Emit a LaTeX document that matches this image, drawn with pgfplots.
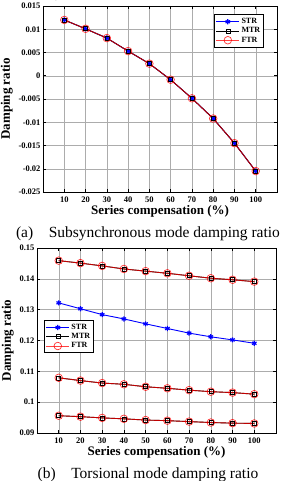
\documentclass[border=0pt]{standalone}
\usepackage{pgfplots}
\pgfplotsset{compat=1.18}
\usepackage{fontspec}
\setmainfont{Liberation Serif}

% Subsynchronous mode damping ratio versus series compensation
\pgfplotstableread{
x    str       mtr       ftr
10   0.0120    0.0120    0.0120
20   0.0101    0.0101    0.0101
30   0.0081    0.0081    0.0081
40   0.0053    0.0053    0.0053
50   0.0026    0.0026    0.0026
60  -0.00085  -0.00085  -0.00085
70  -0.00485  -0.00485  -0.00485
80  -0.0092   -0.0092   -0.0092
90  -0.0145   -0.0145   -0.0145
100 -0.0205   -0.0205   -0.0205
}\subsync

% Torsional mode damping ratios (STR has one torsional mode, MTR/FTR have three)
\pgfplotstableread{
x    str      ma       mb       mc
10   0.1322   0.1459   0.1079   0.0956
20   0.1303   0.1451   0.1070   0.0953
30   0.1284   0.1442   0.1062   0.0949
40   0.1270   0.1432   0.1058   0.0946
50   0.1254   0.1425   0.1050   0.0942
60   0.1239   0.1418   0.1045   0.0940
70   0.1224   0.1410   0.1039   0.0937
80   0.1212   0.1402   0.1034   0.0934
90   0.1202   0.1397   0.1031   0.0932
100  0.1191   0.1391   0.1026   0.0931
}\torsional

\pgfplotsset{
  dampstyle/.style={
    scale only axis,
    xmin=0, xmax=110,
    xtick={10,20,...,100},
    grid=major,
    major grid style={gray!65, line width=0.45pt},
    axis line style={line width=0.9pt},
    tick align=inside,
    major tick length=3pt,
    tick style={black, line width=0.5pt},
    ticklabel style={font=\fontsize{8.5}{9}\selectfont\bfseries},
    xticklabel style={yshift=-1pt},
    yticklabel style={xshift=1pt},
    /pgf/number format/assume math mode=true,
    xlabel={Series compensation (\%)},
    ylabel={Damping ratio},
    label style={font=\fontsize{13}{14}\selectfont\bfseries},
    xlabel style={yshift=4pt},
    ylabel style={yshift=-1pt},
    legend style={font=\fontsize{8}{9}\selectfont\bfseries,
      draw=black, line width=0.9pt, inner sep=1.5pt,
      row sep=-1.5pt, cells={anchor=west}},
    legend cell align=left,
    legend image code/.code={%
      \draw[mark repeat=2, mark phase=2, line width=0.6pt]
        plot coordinates {(0cm,0cm) (0.4cm,0cm) (0.8cm,0cm)};},
  },
  strstyle/.style={blue, line width=0.9pt, mark=asterisk, mark size=2.6pt,
    mark options={line width=1.2pt}},
  mtrstyle/.style={black, line width=0.9pt, mark=square, mark size=2pt,
    mark options={line width=0.6pt}},
  ftrstyle/.style={red, line width=0.9pt, draw opacity=0.75, mark=o, mark size=3.8pt,
    mark options={line width=0.7pt, draw opacity=0.8}},
}

\begin{document}
\begin{tikzpicture}
\useasboundingbox (0pt,0pt) rectangle (291pt,-481pt);

\begin{axis}[dampstyle,
  at={(43pt,-192pt)}, anchor=south west,
  width=234pt, height=186pt,
  ymin=-0.025, ymax=0.015,
  ytick={-0.025,-0.02,...,0.015},
  yticklabels={-0.025,-0.02,-0.015,-0.01,-0.005,0,0.005,0.01,0.015},
  legend style={at={(0.945,0.955)}, anchor=north east},
]
\addplot[strstyle] table[x=x, y=str] {\subsync};
\addlegendentry{STR}
\addplot[mtrstyle] table[x=x, y=mtr] {\subsync};
\addlegendentry{MTR}
\addplot[ftrstyle] table[x=x, y=ftr] {\subsync};
\addlegendentry{FTR}
\end{axis}

\node[font=\fontsize{15.5}{17}\selectfont] at (148pt,-234pt)
  {(a)\hspace{1em}Subsynchronous mode damping ratio};

\begin{axis}[dampstyle,
  at={(37pt,-433pt)}, anchor=south west,
  width=239pt, height=185pt,
  ymin=0.09, ymax=0.15,
  ytick={0.09,0.1,...,0.15},
  yticklabels={0.09,0.1,0.11,0.12,0.13,0.14,0.15},
  legend style={at={(0.03,0.61)}, anchor=north west},
]
\addplot[strstyle] table[x=x, y=str] {\torsional};
\addlegendentry{STR}
\addplot[mtrstyle] table[x=x, y=ma] {\torsional};
\addlegendentry{MTR}
\addplot[ftrstyle] table[x=x, y=ma] {\torsional};
\addlegendentry{FTR}
\addplot[mtrstyle, forget plot] table[x=x, y=mb] {\torsional};
\addplot[ftrstyle, forget plot] table[x=x, y=mb] {\torsional};
\addplot[mtrstyle, forget plot] table[x=x, y=mc] {\torsional};
\addplot[ftrstyle, forget plot] table[x=x, y=mc] {\torsional};
\end{axis}

\node[font=\fontsize{15.5}{17}\selectfont] at (148pt,-475pt)
  {(b)\hspace{1em}Torsional mode damping ratio};
\end{tikzpicture}
\end{document}
